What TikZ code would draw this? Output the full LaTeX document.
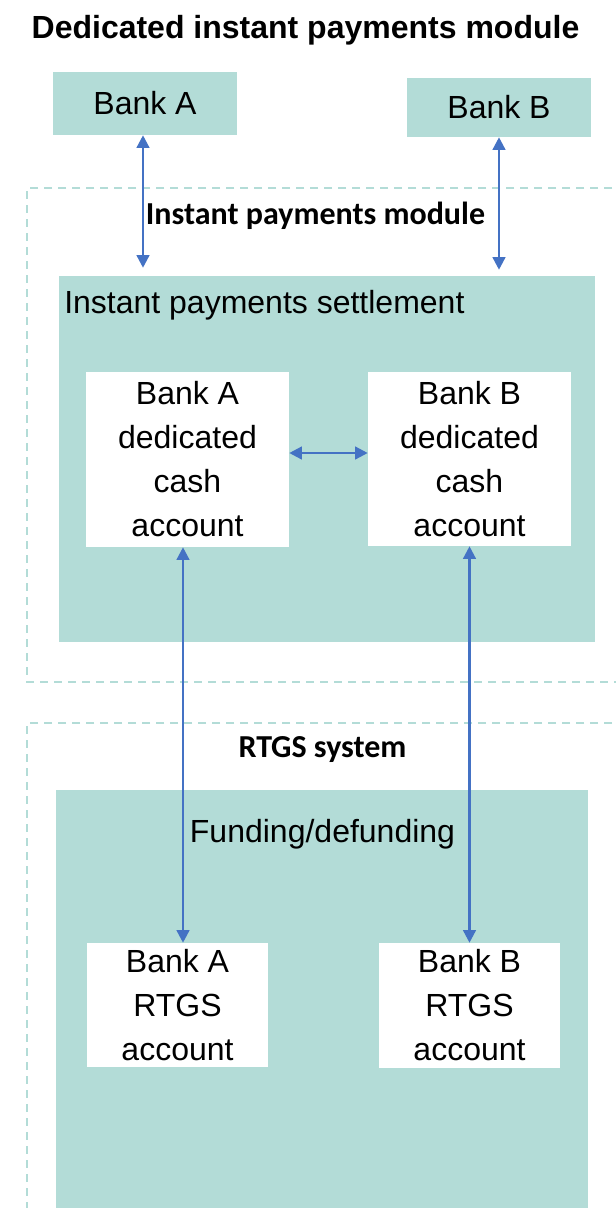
\documentclass[tikz,border=0pt]{standalone}
\usepackage{fontspec}
\setmainfont{Liberation Sans}
\newfontfamily\calibri{Carlito}
\usetikzlibrary{arrows.meta}
\definecolor{tealbg}{HTML}{B3DCD7}
\definecolor{arrowblue}{HTML}{4472C4}
\tikzset{
  px/.style={x=0.75pt,y=-0.75pt},
  tealbox/.style={fill=tealbg,draw=none,inner sep=0pt},
  whitebox/.style={fill=white,draw=none,inner sep=0pt,align=center,font=\fontsize{24}{33}\selectfont},
  bigtext/.style={inner sep=0pt,font=\fontsize{24}{33}\selectfont},
  headtext/.style={inner sep=0pt,font=\calibri\bfseries\fontsize{24}{29}\selectfont},
  dashborder/.style={draw=tealbg,line width=1.5pt,dash pattern=on 6pt off 4.5pt},
  biarrow/.style={draw=arrowblue,line width=1.8pt,{Triangle[length=9.5pt,width=9.5pt]}-{Triangle[length=9.5pt,width=9.5pt]}}
}
\begin{document}
\begin{tikzpicture}[px]
\clip (0,0) rectangle (616,1208);
\fill[white] (0,0) rectangle (616,1208);
% title
\node[inner sep=0pt,font=\bfseries\fontsize{24}{29}\selectfont] (title) at (305.5,30.5) {Dedicated instant payments module};
% banks
\node[tealbox,bigtext,minimum width=138pt,minimum height=47.25pt] (bankA) at (145,103.5) {Bank A};
\node[tealbox,bigtext,minimum width=138pt,minimum height=44.25pt] (bankB) at (499,107.5) {Bank B};
% dashed borders
\draw[dashborder] (640,188) -- (27,188) -- (27,682) -- (640,682);
\draw[dashborder] (640,723) -- (27,723) -- (27,1240);
\node[headtext] (ipmlabel) at (315.5,216) {Instant payments module};
\node[headtext] (rtgslabel) at (322.5,750) {RTGS system};
% instant payments settlement
\node[tealbox,minimum width=402pt,minimum height=274.5pt] (ips) at (327,459) {};
\node[bigtext,anchor=west] (ipstext) at (64,305) {Instant payments settlement};
\node[whitebox,minimum width=152.25pt,minimum height=131.25pt] (dedA) at (187.5,459.5) {Bank A\\dedicated\\cash\\account};
\node[whitebox,minimum width=152.25pt,minimum height=130.5pt] (dedB) at (469.5,459) {Bank B\\dedicated\\cash\\account};
% RTGS
\node[tealbox,minimum width=399pt,minimum height=330pt,anchor=north west] (rtgs) at (56,790) {};
\node[bigtext] (fundtext) at (322.5,834) {Funding/defunding};
\node[whitebox,minimum width=135.75pt,minimum height=93pt] (rtgsA) at (177.5,1005) {Bank A\\RTGS\\account};
\node[whitebox,minimum width=135.75pt,minimum height=93.75pt] (rtgsB) at (469.5,1005.5) {Bank B\\RTGS\\account};
% connectors
\coordinate (colA) at (143,0);
\coordinate (colB) at (499,0);
\coordinate (colC) at (183,0);
\coordinate (rowH) at (0,453);
\draw[biarrow,shorten >=6pt] (bankA.south -| colA) -- (ips.north -| colA);
\draw[biarrow,shorten >=4.5pt] (bankB.south -| colB) -- (ips.north -| colB);
\draw[biarrow] (dedA.east |- rowH) -- (dedB.west |- rowH);
\draw[biarrow] (dedA.south -| colC) -- (rtgsA.north -| colC);
\draw[biarrow] (dedB.south) -- (rtgsB.north);
\end{tikzpicture}
\end{document}
